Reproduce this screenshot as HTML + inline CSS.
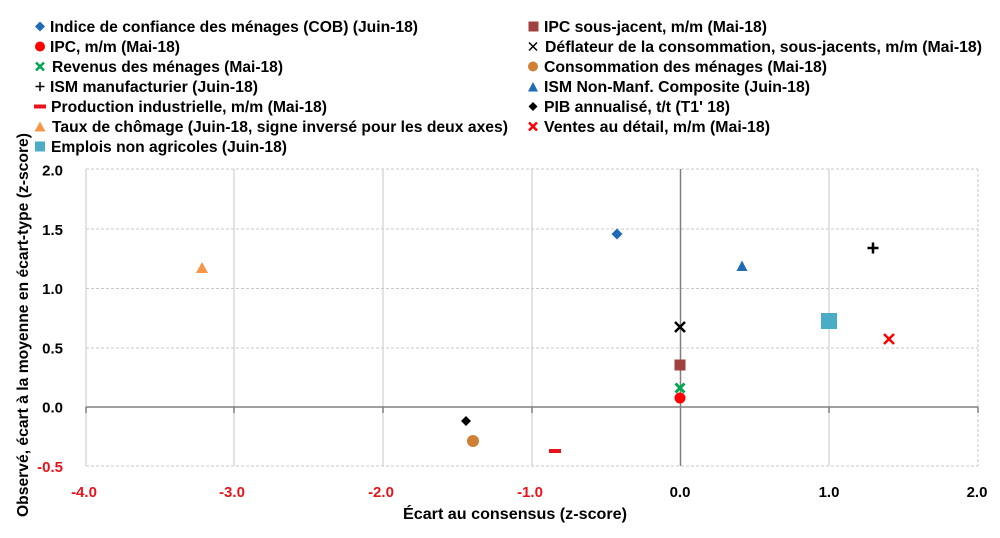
<!DOCTYPE html>
<html><head><meta charset="utf-8"><style>
html,body{margin:0;padding:0;background:#fff;}
svg{display:block;}
text{font-family:"Liberation Sans",Arial,sans-serif;font-weight:bold;}
</style></head><body>
<svg width="1000" height="538" viewBox="0 0 1000 538" xmlns="http://www.w3.org/2000/svg">
<rect width="1000" height="538" fill="#fff"/>
<!-- legend left -->
<g font-size="16" fill="#000">
<polygon points="40,21.5 45,26.5 40,31.5 35,26.5" fill="#1F6BB5"/>
<text x="50" y="32" textLength="368" lengthAdjust="spacingAndGlyphs">Indice de confiance des ménages (COB) (Juin-18)</text>
<circle cx="40" cy="46.5" r="5" fill="#FF0000"/>
<text x="50" y="52" textLength="130" lengthAdjust="spacingAndGlyphs">IPC, m/m (Mai-18)</text>
<path d="M36,62.5 L44,70.5 M44,62.5 L36,70.5" stroke="#00A650" stroke-width="2.5"/>
<text x="52" y="72" textLength="231" lengthAdjust="spacingAndGlyphs">Revenus des ménages (Mai-18)</text>
<path d="M35.5,86.5 L44.5,86.5 M40,82 L40,91" stroke="#000" stroke-width="1.5"/>
<text x="50" y="92" textLength="208" lengthAdjust="spacingAndGlyphs">ISM manufacturier (Juin-18)</text>
<rect x="34" y="104.5" width="12" height="4" fill="#E8141B"/>
<text x="51" y="112" textLength="276" lengthAdjust="spacingAndGlyphs">Production industrielle, m/m (Mai-18)</text>
<polygon points="40,121.5 45.5,131.5 34.5,131.5" fill="#F79646"/>
<text x="52" y="132" textLength="456" lengthAdjust="spacingAndGlyphs">Taux de chômage (Juin-18, signe inversé pour les deux axes)</text>
<rect x="35" y="141.5" width="10" height="10" fill="#4BACC6"/>
<text x="51" y="152" textLength="236" lengthAdjust="spacingAndGlyphs">Emplois non agricoles (Juin-18)</text>
</g>
<!-- legend right -->
<g font-size="16" fill="#000">
<rect x="528.5" y="21.5" width="10" height="10" fill="#A0403F"/>
<text x="544" y="32" textLength="223" lengthAdjust="spacingAndGlyphs">IPC sous-jacent, m/m (Mai-18)</text>
<path d="M529,42.5 L537,50.5 M537,42.5 L529,50.5" stroke="#000" stroke-width="1.5"/>
<text x="545" y="52" textLength="437" lengthAdjust="spacingAndGlyphs">Déflateur de la consommation, sous-jacents, m/m (Mai-18)</text>
<circle cx="533" cy="66.5" r="5" fill="#D07F34"/>
<text x="544" y="72" textLength="283" lengthAdjust="spacingAndGlyphs">Consommation des ménages (Mai-18)</text>
<polygon points="533,82 538,91.5 528,91.5" fill="#1F6BB5"/>
<text x="544" y="92" textLength="266" lengthAdjust="spacingAndGlyphs">ISM Non-Manf. Composite (Juin-18)</text>
<polygon points="533,102 537.5,106.5 533,111 528.5,106.5" fill="#000"/>
<text x="544" y="112" textLength="186" lengthAdjust="spacingAndGlyphs">PIB annualisé, t/t (T1' 18)</text>
<path d="M529,122.5 L537,130.5 M537,122.5 L529,130.5" stroke="#FF0000" stroke-width="2.5"/>
<text x="544" y="132" textLength="226" lengthAdjust="spacingAndGlyphs">Ventes au détail, m/m (Mai-18)</text>
</g>
<!-- grid -->
<g stroke="#d0d0d0" stroke-width="1.2" fill="none">
<line x1="86" y1="169" x2="86" y2="466"/>
<line x1="234" y1="169" x2="234" y2="466"/>
<line x1="383" y1="169" x2="383" y2="466"/>
<line x1="532" y1="169" x2="532" y2="466"/>
<line x1="829" y1="169" x2="829" y2="466"/>
</g>
<g stroke="#c8c8c8" stroke-width="1" stroke-dasharray="3,2" fill="none">
<line x1="978" y1="169" x2="978" y2="466"/>
<line x1="86" y1="169" x2="978" y2="169"/>
<line x1="86" y1="229" x2="978" y2="229"/>
<line x1="86" y1="288.5" x2="978" y2="288.5"/>
<line x1="86" y1="348" x2="978" y2="348"/>
<line x1="86" y1="466" x2="978" y2="466"/>
</g>
<!-- axes -->
<g stroke="#808080" stroke-width="1.5" fill="none">
<line x1="86" y1="407" x2="978" y2="407"/>
<line x1="680.5" y1="169" x2="680.5" y2="466"/>
<path d="M86,407 V413 M234,407 V413 M383,407 V413 M532,407 V413 M829,407 V413 M978,407 V413"/>
</g>
<!-- y tick labels -->
<g font-size="15" text-anchor="end">
<text x="63" y="175.5">2.0</text>
<text x="63" y="235">1.5</text>
<text x="63" y="294">1.0</text>
<text x="63" y="353.5">0.5</text>
<text x="63" y="412.5">0.0</text>
<text x="63" y="472" fill="#E8141B">-0.5</text>
</g>
<!-- x tick labels -->
<g font-size="15" text-anchor="middle">
<text x="84" y="497" fill="#E8141B">-4.0</text>
<text x="232" y="497" fill="#E8141B">-3.0</text>
<text x="381" y="497" fill="#E8141B">-2.0</text>
<text x="530" y="497" fill="#E8141B">-1.0</text>
<text x="680" y="497">0.0</text>
<text x="829" y="497">1.0</text>
<text x="977" y="497">2.0</text>
</g>
<!-- axis titles -->
<text x="403" y="519" font-size="16" textLength="224" lengthAdjust="spacingAndGlyphs">Écart au consensus (z-score)</text>
<text transform="translate(28,517) rotate(-90)" x="0" y="0" font-size="16" textLength="384" lengthAdjust="spacingAndGlyphs">Observé, écart à la moyenne en écart-type (z-score)</text>
<!-- data markers -->
<polygon points="202,262 208,273 196,273" fill="#F79646"/>
<polygon points="617,228.5 622.5,234 617,239.5 611.5,234" fill="#1F6BB5"/>
<path d="M675,322 L685,332 M685,322 L675,332" stroke="#000" stroke-width="2.5"/>
<rect x="674.5" y="359.5" width="11" height="11" fill="#A0403F"/>
<path d="M675.5,383.5 L684.5,392.5 M684.5,383.5 L675.5,392.5" stroke="#00A650" stroke-width="3"/>
<circle cx="680" cy="398" r="5.5" fill="#FF0000"/>
<polygon points="466,416 471,421 466,426 461,421" fill="#000"/>
<circle cx="473" cy="441" r="6" fill="#D07F34"/>
<rect x="549" y="449" width="12" height="4" fill="#E8141B"/>
<polygon points="742,260.5 747.5,271 736.5,271" fill="#1F6BB5"/>
<path d="M867.5,248 H878.5 M873,242.5 V253.5" stroke="#000" stroke-width="2.5"/>
<rect x="821" y="313" width="16" height="16" fill="#4BACC6"/>
<path d="M884,334 L894,344 M894,334 L884,344" stroke="#FF0000" stroke-width="2.5"/>
</svg>
</body></html>
